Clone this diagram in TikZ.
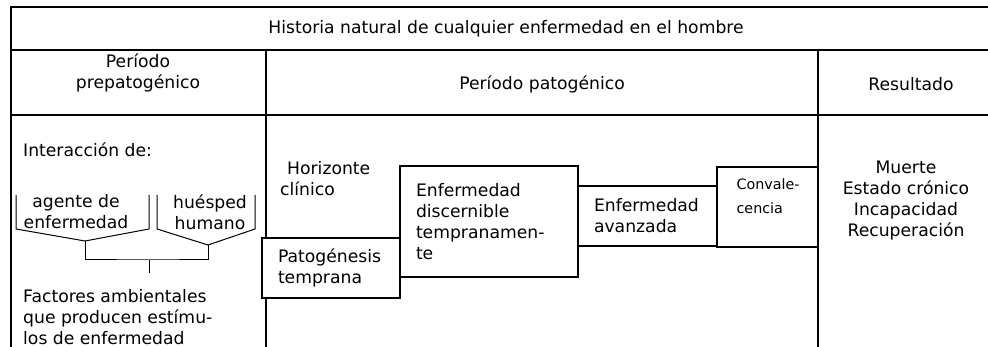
\documentclass[tikz,border=0pt]{standalone}
\usepackage{fontspec}
\setmainfont{DejaVu Sans}
\usetikzlibrary{positioning}

\begin{document}
\begin{tikzpicture}
	[
	x=1pt, y=-1pt,
	texto/.style={
	    inner sep=0pt,
	    font=\fontsize{17.2}{21}\selectfont
	},
	caja/.style={
	    rectangle,
	    draw,
	    line width=1.2pt,
	    fill=white,
	    align=left,
	    inner xsep=16pt,
	    inner ysep=0pt,
	    font=\fontsize{17.2}{21}\selectfont
	},
	rejilla/.style={
	    line width=1.2pt
	},
	llave/.style={
	    line width=1pt,
	    line join=miter
	}
	]
	\useasboundingbox (0,0) rectangle (988,347);

	% rejilla de la tabla
	\draw[rejilla] (988,7) -- (11,7) -- (11,347);
	\draw[rejilla] (11,50) -- (988,50);
	\draw[rejilla] (11,115) -- (988,115);
	\draw[rejilla] (266,50) -- (266,347);
	\draw[rejilla] (818,50) -- (818,347);

	% encabezados
	\node(titulo) [texto] at (506,29) {Historia natural de cualquier enfermedad en el hombre};
	\node(prepatogenico) [texto, align=center] at (138,73) {Período\\prepatogénico};
	\node(patogenico) [texto] at (542,84) {Período patogénico};
	\node(resultado) [texto] at (911,84) {Resultado};

	% periodo prepatogenico
	\node(interaccion) [texto, anchor=west] at (23,150) {Interacción de:};
	\node(agente) [texto, align=center] at (76,212) {agente de\\enfermedad};
	\node(huesped) [texto, align=center] at (210,212) {huésped\\humano};
	\node(factores) [texto, align=left, anchor=west] at (23,317) {Factores ambientales\\que producen estímu-\\los de enfermedad};

	\coordinate(puntaAgente) at (85,241);
	\coordinate(puntaHuesped) at (208,245);
	\coordinate(union) at (149,260);
	\draw[llave] (16,195) -- (16,229) -- (puntaAgente) -- (149,229) -- (149,195);
	\draw[llave] (157,195) -- (157,229) -- (puntaHuesped) -- (255,229) -- (255,195);
	\draw[llave] (puntaAgente) |- (union) -| (puntaHuesped);
	\draw[llave] (union) -- ++(0,13);

	% periodo patogenico
	\node(horizonte) [texto, align=left, anchor=west] at (280,179) {\hspace*{7pt}Horizonte\\clínico};
	\node(patogenesis) [caja, text width=106pt, minimum height=60pt] at (331,268) {Patogénesis\\temprana};
	\node(discernible) [caja, text width=146pt, minimum height=111pt] at (489,221.5) {Enfermedad\\discernible\\tempranamen-\\te};
	\node(avanzada) [caja, text width=107pt, minimum height=60pt] at (647.5,216) {Enfermedad\\avanzada};
	\node(convalecencia) [caja, minimum width=101pt, minimum height=80pt] at (767.5,207) {};
	\node(textoConvalecencia) [texto, align=left, font=\fontsize{14.3}{24}\selectfont,
	    below right=12pt and 20pt of convalecencia.north west] {Convale-\\cencia};

	% resultado
	\node(desenlaces) [texto, align=center] at (906,201) {Muerte\\Estado crónico\\Incapacidad\\Recuperación};
\end{tikzpicture}
\end{document}
